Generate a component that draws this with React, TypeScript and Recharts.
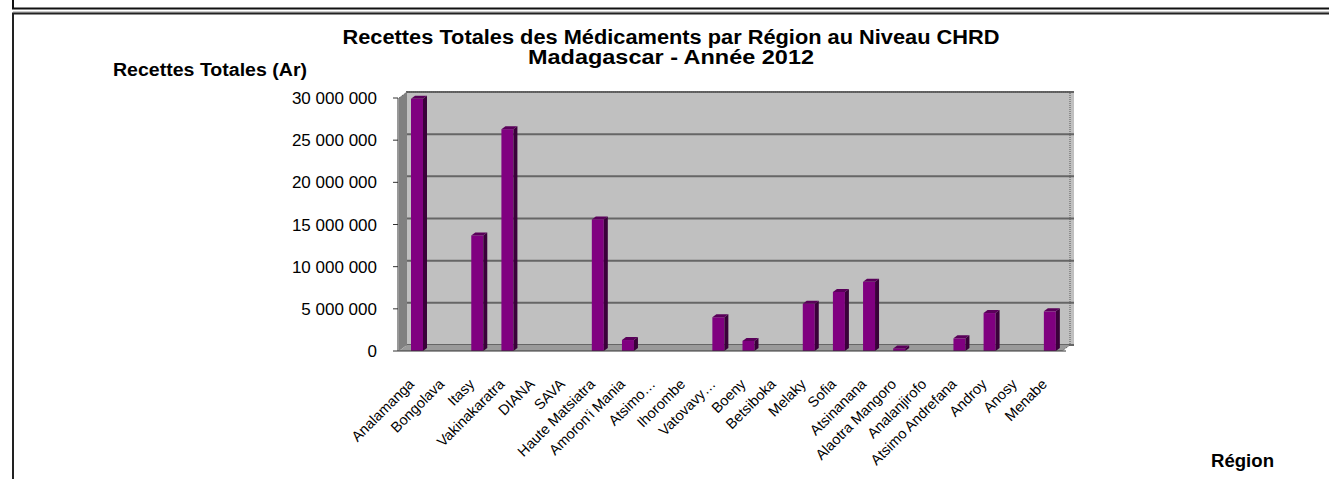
import { Bar, BarChart, CartesianGrid, ReferenceArea, XAxis, YAxis } from 'recharts';

const regions = [
  'Analamanga', 'Bongolava', 'Itasy', 'Vakinakaratra', 'DIANA', 'SAVA',
  'Haute Matsiatra', "Amoron'i Mania", 'Atsimo…', 'Ihorombe', 'Vatovavy…',
  'Boeny', 'Betsiboka', 'Melaky', 'Sofia', 'Atsinanana', 'Alaotra Mangoro',
  'Analanjirofo', 'Atsimo Andrefana', 'Androy', 'Anosy', 'Menabe',
];

// recettes totales (Ar)
const recettes = [
  29900000, 0, 13700000, 26300000, 0, 0,
  15600000, 1300000, 0, 0, 4000000,
  1200000, 0, 5600000, 7000000, 8200000, 300000,
  0, 1500000, 4500000, 0, 4700000,
];

const yTicks = [0, 5000000, 10000000, 15000000, 20000000, 25000000, 30000000];

const titleLines = [
  'Recettes Totales des Médicaments par Région au Niveau CHRD',
  'Madagascar - Année 2012',
];
const titleWidths = [657, 286];

const rows = regions.map((region, i) => ({ region, recettes: recettes[i] }));

const FONT = '"Liberation Sans", Arial, sans-serif';
const W = 1329;
const H = 479;
const MARGIN = { top: 98, right: 263, bottom: 0, left: 0 };
const Y_AXIS_W = 398;
const X_AXIS_H = 128;
const PLOT_LEFT = MARGIN.left + Y_AXIS_W;
const PLOT_TOP = MARGIN.top;
const PLOT_W = W - MARGIN.right - PLOT_LEFT;
const PLOT_H = H - MARGIN.top - X_AXIS_H;
// depth of the 3D walls
const DX = 8;
const DY = 6;

const fmt = (v: number) => String(v).replace(/\B(?=(\d{3})+(?!\d))/g, ' ');

function Column3D(props: any) {
  const { x, y, width, height, value } = props;
  if (!value || height <= 0) return <g />;
  const fx = x + 3;
  const d = 4;
  const e = 3;
  return (
    <g>
      <rect x={fx} y={y} width={width} height={height} fill="#800080" />
      <polygon
        points={`${fx + width},${y} ${fx + width + d},${y - e} ${fx + width + d},${y + height - e} ${fx + width},${y + height}`}
        fill="#3a003a"
      />
      <polygon
        points={`${fx},${y} ${fx + d},${y - e} ${fx + width + d},${y - e} ${fx + width},${y}`}
        fill="#5a005a"
      />
    </g>
  );
}

// left wall + floor + border of the back wall
function Walls(props: any) {
  const { x, y, width, height } = props;
  const b = y + height;
  return (
    <g>
      <polygon points={`${x},${y} ${x + DX},${y - DY} ${x + DX},${b - DY} ${x},${b}`} fill="#808080" />
      <polygon
        points={`${x},${b} ${x + DX},${b - DY} ${x + width + DX},${b - DY} ${x + width},${b}`}
        fill="#9a9a9a"
      />
      <polyline
        points={`${x},${y} ${x + DX},${y - DY} ${x + width + DX},${y - DY} ${x + width + DX},${b - DY} ${x + width},${b}`}
        fill="none"
        stroke="#555"
        strokeWidth={1}
        strokeDasharray="1 1"
      />
    </g>
  );
}

function RegionTick({ x, y, payload }: any) {
  const ax = x + 1;
  const ay = y + 34;
  return (
    <text
      x={ax}
      y={ay}
      transform={`rotate(-45 ${ax} ${ay})`}
      textAnchor="end"
      fontSize={14.5}
      fontFamily={FONT}
      fill="#000"
    >
      {payload.value}
    </text>
  );
}

export default function App() {
  return (
    <div style={{ position: 'relative', width: W, height: H, background: '#fff', overflow: 'hidden' }}>
      <style>{'body{margin:0}'}</style>
      <BarChart width={W} height={H} data={rows} margin={MARGIN}>
        <CartesianGrid
          x={PLOT_LEFT + DX}
          y={PLOT_TOP - DY}
          width={PLOT_W}
          height={PLOT_H}
          fill="#C0C0C0"
          fillOpacity={1}
          vertical={false}
          horizontal={(p: any) => (
            <line
              x1={p.x1}
              x2={p.x2}
              y1={p.y1 - DY}
              y2={p.y2 - DY}
              stroke="#666"
              strokeWidth={2}
            />
          )}
        />
        <ReferenceArea y1={0} y2={30000000} shape={<Walls />} ifOverflow="visible" />
        <XAxis
          dataKey="region"
          interval={0}
          height={X_AXIS_H}
          tickLine={false}
          tickSize={0}
          tickMargin={0}
          axisLine={{ stroke: '#333' }}
          padding={{ left: 1, right: 4 }}
          tick={<RegionTick />}
        />
        <YAxis
          width={Y_AXIS_W}
          domain={[0, 30000000]}
          ticks={yTicks}
          tickFormatter={fmt}
          tickSize={5}
          tickMargin={16}
          axisLine={{ stroke: '#333' }}
          tickLine={{ stroke: '#333' }}
          tick={{ fontSize: 17, fill: '#000', fontFamily: FONT }}
        />
        <Bar dataKey="recettes" barSize={12} shape={<Column3D />} isAnimationActive={false} />
      </BarChart>
      <svg
        width={W}
        height={H}
        style={{ position: 'absolute', left: 0, top: 0, pointerEvents: 'none' }}
      >
        <line x1={13} y1={0} x2={13} y2={9} stroke="#111" strokeWidth={2} />
        <line x1={12} y1={8.5} x2={W} y2={8.5} stroke="#111" strokeWidth={2} />
        <line x1={13} y1={12} x2={W} y2={12} stroke="#999" strokeWidth={1} />
        <line x1={12} y1={13.5} x2={W} y2={13.5} stroke="#222" strokeWidth={2} />
        <line x1={13} y1={13} x2={13} y2={H} stroke="#222" strokeWidth={2} />
        {titleLines.map((t, i) => (
          <text
            key={t}
            x={671 - titleWidths[i] / 2}
            y={44 + i * 20}
            textLength={titleWidths[i]}
            lengthAdjust="spacingAndGlyphs"
            fontSize={20}
            fontWeight="bold"
            fontFamily={FONT}
            fill="#000"
          >
            {t}
          </text>
        ))}
        <text
          x={113}
          y={76}
          textLength={194}
          lengthAdjust="spacingAndGlyphs"
          fontSize={18}
          fontWeight="bold"
          fontFamily={FONT}
          fill="#000"
        >
          Recettes Totales (Ar)
        </text>
        <text
          x={1211}
          y={467}
          textLength={63}
          lengthAdjust="spacingAndGlyphs"
          fontSize={17.5}
          fontWeight="bold"
          fontFamily={FONT}
          fill="#000"
        >
          Région
        </text>
      </svg>
    </div>
  );
}
